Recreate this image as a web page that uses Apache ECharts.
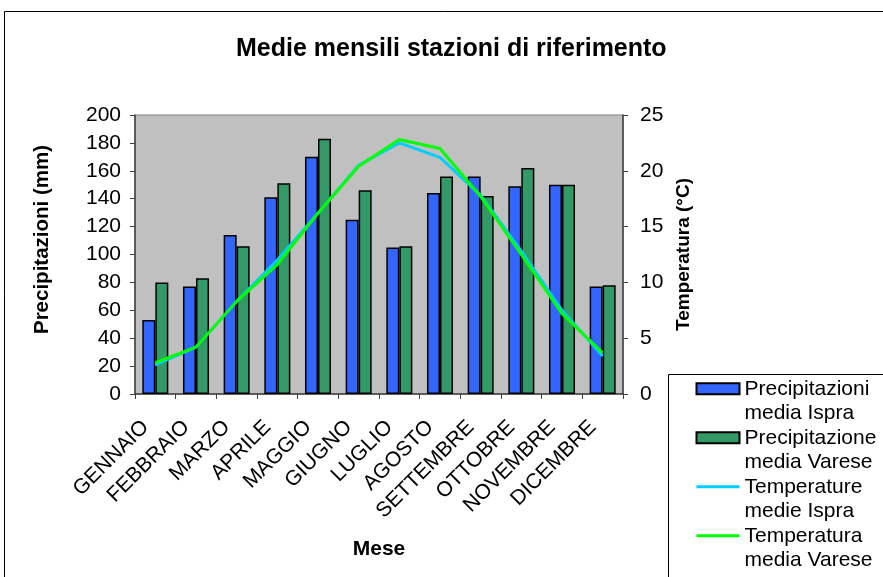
<!DOCTYPE html>
<html>
<head>
<meta charset="utf-8">
<script src="https://cdn.jsdelivr.net/npm/echarts@6/dist/echarts.min.js"></script>
<style>
  html, body { margin: 0; padding: 0; background: #fff; }
  #main { width: 883px; height: 577px; }
</style>
</head>
<body>
<div id="main"></div>
<script>
// mesi
const mesi = ['GENNAIO', 'FEBBRAIO', 'MARZO', 'APRILE', 'MAGGIO', 'GIUGNO',
  'LUGLIO', 'AGOSTO', 'SETTEMBRE', 'OTTOBRE', 'NOVEMBRE', 'DICEMBRE'];
// precipitazioni (mm)
const precIspra = [53, 77, 114, 141, 170, 125, 105, 144, 156, 149, 150, 77];
const precVarese = [80, 83, 106, 151, 183, 146, 106, 156, 142, 162, 150, 78];
// temperature (°C)
const tempIspra = [2.6, 4.2, 8.3, 12.0, 16.2, 20.5, 22.5, 21.2, 17.8, 12.8, 7.5, 3.4];
const tempVarese = [2.8, 4.2, 8.3, 11.6, 16.2, 20.4, 22.8, 22.0, 17.7, 12.5, 7.2, 3.7];

const FONT = '"Liberation Sans", Arial, sans-serif';

// testo legenda su due righe (riga vuota sopra per allineare l'icona alla prima riga)
const legendText = {
  'Precipitazioni media Ispra': 'Precipitazioni\nmedia Ispra',
  'Precipitazione media Varese': 'Precipitazione\nmedia Varese',
  'Temperature medie Ispra': 'Temperature\nmedie Ispra',
  'Temperatura media Varese': 'Temperatura\nmedia Varese'
};

const chart = echarts.init(document.getElementById('main'));

const option = {
  animation: false,
  backgroundColor: '#fff',
  textStyle: { fontFamily: FONT },
  title: {
    text: 'Medie mensili stazioni di riferimento',
    left: 231,
    top: 32,
    textStyle: { fontFamily: FONT, fontSize: 25, fontWeight: 'bold', color: '#000' }
  },
  graphic: [
    {
      type: 'rect', z: 0,
      shape: { x: 4.5, y: 11.5, width: 900, height: 600 },
      style: { fill: 'none', stroke: '#000', lineWidth: 1 }
    },
    {
      type: 'rect', z: 1,
      shape: { x: 668.5, y: 374.5, width: 300, height: 300 },
      style: { fill: '#fff', stroke: '#000', lineWidth: 1 }
    }
  ],
  legend: {
    orient: 'vertical',
    left: 695,
    top: 352,
    padding: 0,
    itemGap: -24.5,
    itemWidth: 43,
    itemHeight: 11,
    textStyle: { fontFamily: FONT, fontSize: 21, color: '#000', lineHeight: 24.5 },
    formatter: name => '\n' + legendText[name],
    data: [
      { name: 'Precipitazioni media Ispra', icon: 'rect' },
      { name: 'Precipitazione media Varese', icon: 'rect' },
      { name: 'Temperature medie Ispra', itemStyle: { opacity: 0 }, lineStyle: { width: 3 } },
      { name: 'Temperatura media Varese', itemStyle: { opacity: 0 }, lineStyle: { width: 3 } }
    ]
  },
  grid: {
    left: 135, right: 260, top: 115, bottom: 183,
    show: true,
    backgroundColor: '#c0c0c0',
    borderColor: '#808080',
    borderWidth: 1
  },
  xAxis: {
    type: 'category',
    data: mesi,
    boundaryGap: true,
    name: 'Mese',
    nameLocation: 'middle',
    nameGap: 145,
    nameTextStyle: { fontFamily: FONT, fontSize: 21, fontWeight: 'bold', color: '#000' },
    axisLine: { lineStyle: { color: '#404040', width: 1.5 } },
    axisTick: { show: true, length: 5, lineStyle: { color: '#404040' } },
    axisLabel: { interval: 0, rotate: 45, fontSize: 21, color: '#000', margin: 20, padding: [0, 14, 0, 0] },
    splitLine: { show: false }
  },
  yAxis: [
    {
      type: 'value',
      min: 0, max: 200, interval: 20,
      position: 'left',
      name: 'Precipitazioni (mm)',
      nameLocation: 'middle',
      nameGap: 82,
      nameTextStyle: { fontFamily: FONT, fontSize: 20.5, fontWeight: 'bold', color: '#000', padding: [0, 0, 0, 30] },
      axisLine: { show: true, lineStyle: { color: '#404040', width: 1.5 } },
      axisTick: { show: true, length: 5, lineStyle: { color: '#404040' } },
      axisLabel: { fontSize: 21, color: '#000', margin: 14 },
      splitLine: { show: false }
    },
    {
      type: 'value',
      min: 0, max: 25, interval: 5,
      position: 'right',
      name: 'Temperatura (°C)',
      nameLocation: 'middle',
      nameGap: 51,
      nameTextStyle: { fontFamily: FONT, fontSize: 19, fontWeight: 'bold', color: '#000' },
      axisLine: { show: true, lineStyle: { color: '#404040', width: 1.5 } },
      axisTick: { show: true, length: 5, lineStyle: { color: '#404040' } },
      axisLabel: { fontSize: 21, color: '#000', margin: 17 },
      splitLine: { show: false }
    }
  ],
  series: [
    {
      name: 'Precipitazioni media Ispra',
      type: 'bar',
      data: precIspra,
      barGap: '0%',
      barCategoryGap: '36%',
      itemStyle: { color: '#3366ff', borderColor: '#000', borderWidth: 1.5 }
    },
    {
      name: 'Precipitazione media Varese',
      type: 'bar',
      data: precVarese,
      barGap: '0%',
      barCategoryGap: '36%',
      itemStyle: { color: '#339966', borderColor: '#000', borderWidth: 1.5 }
    },
    {
      name: 'Temperature medie Ispra',
      type: 'line',
      yAxisIndex: 1,
      data: tempIspra,
      symbol: 'none',
      lineStyle: { color: '#00ccff', width: 3 },
      itemStyle: { color: '#00ccff' }
    },
    {
      name: 'Temperatura media Varese',
      type: 'line',
      yAxisIndex: 1,
      data: tempVarese,
      symbol: 'none',
      lineStyle: { color: '#00ff00', width: 3 },
      itemStyle: { color: '#00ff00' }
    }
  ]
};

chart.setOption(option);
</script>
</body>
</html>
